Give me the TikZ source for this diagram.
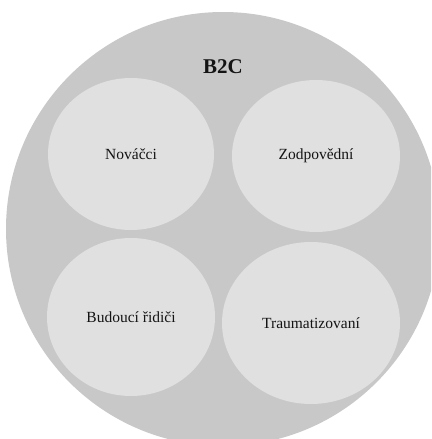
\documentclass[tikz,border=0pt]{standalone}
\usepackage{fontspec}
\setmainfont{Liberation Serif}
\usetikzlibrary{shapes.geometric}
\definecolor{outergray}{RGB}{200,200,200}
\definecolor{innergray}{RGB}{224,224,224}
\definecolor{txt}{RGB}{20,20,20}
\tikzset{
  seg/.style={ellipse, fill=innergray, draw=none, inner sep=0pt, text=txt,
    font=\fontsize{15.5}{18}\selectfont},
}
\begin{document}
\begin{tikzpicture}[x=1pt,y=-1pt]
\useasboundingbox (0,0) rectangle (431,439);
\clip (0,0) rectangle (431,439);
\fill[white] (0,0) rectangle (431,439);
\node[circle, fill=outergray, draw=none, minimum size=434pt, inner sep=0pt] (b2c) at (223,229) {};
\node[text=txt, font=\bfseries\fontsize{21}{24}\selectfont] (title) at (223,67) {B2C};
\node[seg, minimum width=166pt, minimum height=152pt] (novacci) at (131,154) {Nováčci};
\node[seg, minimum width=168pt, minimum height=152pt] (zodp) at (316,156) {Zodpovědní};
\node[seg, minimum width=168pt, minimum height=158pt] (budouci) at (131,317) {Budoucí řidiči};
\node[seg, minimum width=178pt, minimum height=162pt] (trauma) at (311,323) {Traumatizovaní};
\end{tikzpicture}
\end{document}
